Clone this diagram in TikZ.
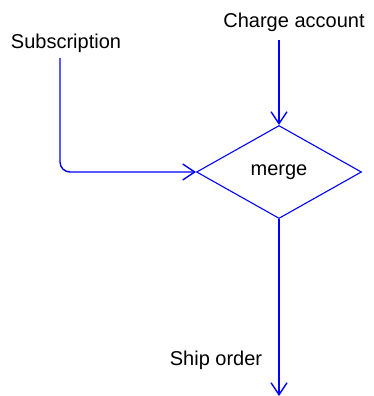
\documentclass[tikz,border=0pt]{standalone}
\usepackage{fontspec}
\setmainfont{Liberation Sans}
\usetikzlibrary{shapes.geometric,arrows.meta}

\begin{document}
\begin{tikzpicture}[
    x=1pt, y=-1pt,
    >={Straight Barb[length=12pt,width=16pt]},
    flow/.style={draw=blue, line width=1.4pt},
    every node/.style={font=\fontsize{20}{24}\selectfont}
  ]
    \useasboundingbox (0,0) rectangle (374,396);

    % Merge node ---------------------------------------------------
    \node[diamond, draw=blue, line width=1.1pt, minimum width=165pt,
          minimum height=93pt, inner sep=0pt] (merge) at (279,172) {merge};

    % Labels -------------------------------------------------------
    \node (subscr) at (66,43) {Subscription};
    \node (charge) at (294,22) {Charge account};
    \node (ship)   at (216,360) {Ship order};

    % Flow end points
    \coordinate (subscrStart) at (60,58);
    \coordinate (chargeStart) at (279,40);
    \coordinate (shipEnd)     at (279,396);

    % Flows --------------------------------------------------------
    \draw[flow,->,rounded corners=10pt] (subscrStart) |- (merge.west);
    \draw[flow,->] (chargeStart) -- (merge.north);
    \draw[flow,->] (merge.south) -- (shipEnd);

  \end{tikzpicture}
\end{document}
